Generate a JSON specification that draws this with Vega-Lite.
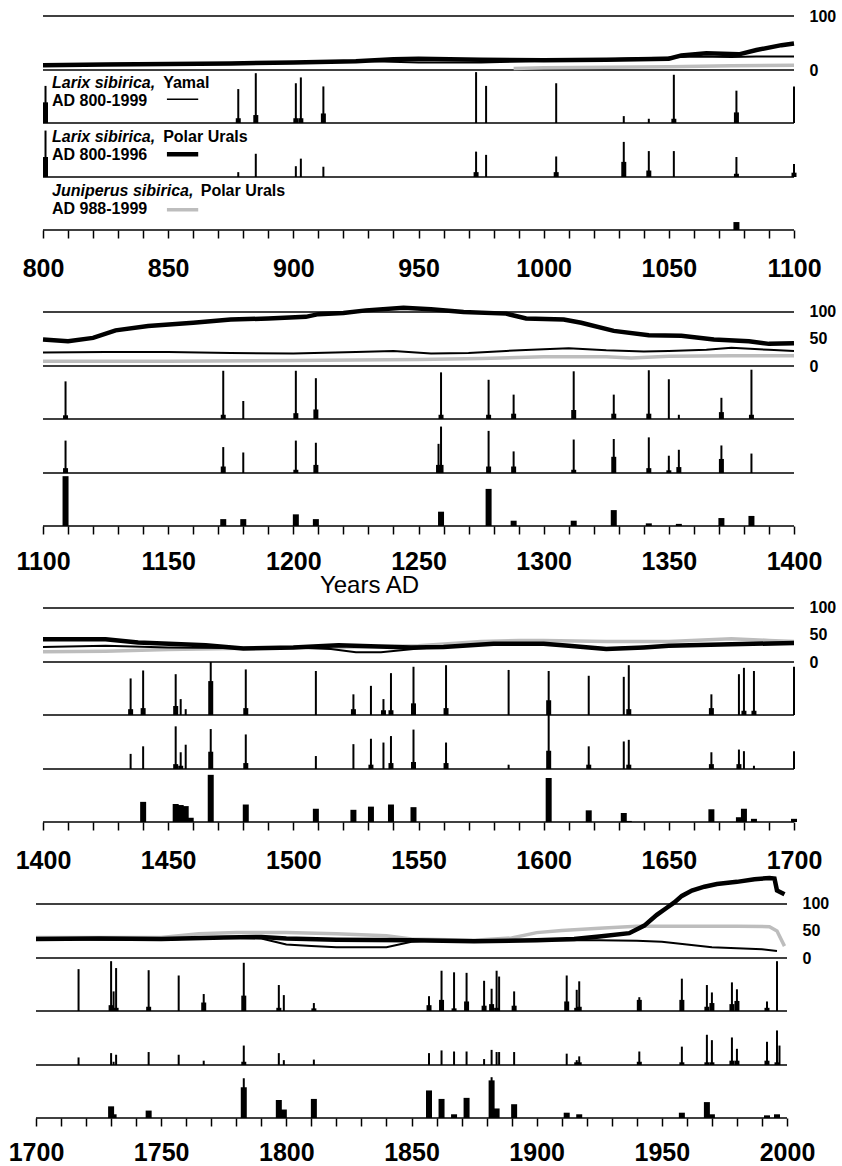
{
"$schema": "https://vega.github.io/schema/vega-lite/v6.json",
"background": "white",
"padding": {"left": 8, "top": 8, "right": 0, "bottom": 0},
"autosize": {"type": "pad"},
"config": {"view": {"stroke": null}, "font": "Liberation Sans", "scale": {"continuousPadding": 0}},
"datasets": {
"series": [
{"s":"thin","year":800,"v":10},{"s":"thin","year":825,"v":11},{"s":"thin","year":850,"v":12},{"s":"thin","year":875,"v":13},{"s":"thin","year":900,"v":14},{"s":"thin","year":925,"v":17},{"s":"thin","year":950,"v":14},{"s":"thin","year":975,"v":14},{"s":"thin","year":1000,"v":17},{"s":"thin","year":1025,"v":20},{"s":"thin","year":1050,"v":23},{"s":"thin","year":1060,"v":25},{"s":"thin","year":1075,"v":24},{"s":"thin","year":1085,"v":25},{"s":"thin","year":1100,"v":25},
{"s":"thin","year":1125,"v":26},{"s":"thin","year":1150,"v":26},{"s":"thin","year":1175,"v":24},{"s":"thin","year":1200,"v":23},{"s":"thin","year":1225,"v":26},{"s":"thin","year":1240,"v":28},{"s":"thin","year":1255,"v":23},{"s":"thin","year":1270,"v":24},{"s":"thin","year":1285,"v":28},{"s":"thin","year":1300,"v":31},{"s":"thin","year":1310,"v":33},{"s":"thin","year":1325,"v":29},{"s":"thin","year":1340,"v":27},{"s":"thin","year":1350,"v":28},{"s":"thin","year":1365,"v":30},{"s":"thin","year":1375,"v":34},{"s":"thin","year":1390,"v":30},{"s":"thin","year":1400,"v":28},
{"s":"thin","year":1425,"v":30},{"s":"thin","year":1450,"v":27},{"s":"thin","year":1475,"v":26},{"s":"thin","year":1500,"v":27},{"s":"thin","year":1515,"v":24},{"s":"thin","year":1525,"v":18},{"s":"thin","year":1535,"v":18},{"s":"thin","year":1550,"v":25},{"s":"thin","year":1575,"v":32},{"s":"thin","year":1600,"v":34},{"s":"thin","year":1625,"v":25},{"s":"thin","year":1650,"v":30},{"s":"thin","year":1675,"v":34},{"s":"thin","year":1700,"v":36},
{"s":"thin","year":1725,"v":34},{"s":"thin","year":1750,"v":34},{"s":"thin","year":1775,"v":38},{"s":"thin","year":1790,"v":36},{"s":"thin","year":1800,"v":25},{"s":"thin","year":1810,"v":22},{"s":"thin","year":1820,"v":20},{"s":"thin","year":1840,"v":20},{"s":"thin","year":1850,"v":30},{"s":"thin","year":1860,"v":33},{"s":"thin","year":1875,"v":32},{"s":"thin","year":1900,"v":33},{"s":"thin","year":1925,"v":33},{"s":"thin","year":1940,"v":32},{"s":"thin","year":1950,"v":30},{"s":"thin","year":1960,"v":25},{"s":"thin","year":1970,"v":20},{"s":"thin","year":1980,"v":18},{"s":"thin","year":1990,"v":16},{"s":"thin","year":1996,"v":13},
{"s":"thick","year":800,"v":9},{"s":"thick","year":825,"v":10},{"s":"thick","year":850,"v":11},{"s":"thick","year":875,"v":12},{"s":"thick","year":900,"v":14},{"s":"thick","year":925,"v":16},{"s":"thick","year":940,"v":20},{"s":"thick","year":950,"v":21},{"s":"thick","year":975,"v":19},{"s":"thick","year":1000,"v":18},{"s":"thick","year":1025,"v":19},{"s":"thick","year":1050,"v":21},{"s":"thick","year":1055,"v":27},{"s":"thick","year":1065,"v":31},{"s":"thick","year":1078,"v":29},{"s":"thick","year":1085,"v":37},{"s":"thick","year":1095,"v":46},{"s":"thick","year":1100,"v":49},
{"s":"thick","year":1110,"v":46},{"s":"thick","year":1120,"v":52},{"s":"thick","year":1129,"v":66},{"s":"thick","year":1142,"v":74},{"s":"thick","year":1160,"v":80},{"s":"thick","year":1175,"v":86},{"s":"thick","year":1190,"v":88},{"s":"thick","year":1205,"v":91},{"s":"thick","year":1210,"v":96},{"s":"thick","year":1220,"v":98},{"s":"thick","year":1229,"v":103},{"s":"thick","year":1244,"v":108},{"s":"thick","year":1255,"v":105},{"s":"thick","year":1268,"v":100},{"s":"thick","year":1285,"v":97},{"s":"thick","year":1293,"v":88},{"s":"thick","year":1308,"v":86},{"s":"thick","year":1315,"v":80},{"s":"thick","year":1328,"v":65},{"s":"thick","year":1342,"v":57},{"s":"thick","year":1355,"v":56},{"s":"thick","year":1368,"v":49},{"s":"thick","year":1382,"v":46},{"s":"thick","year":1390,"v":41},{"s":"thick","year":1400,"v":42},
{"s":"thick","year":1425,"v":42},{"s":"thick","year":1438,"v":36},{"s":"thick","year":1465,"v":31},{"s":"thick","year":1480,"v":25},{"s":"thick","year":1500,"v":27},{"s":"thick","year":1518,"v":31},{"s":"thick","year":1547,"v":27},{"s":"thick","year":1560,"v":28},{"s":"thick","year":1580,"v":34},{"s":"thick","year":1600,"v":34},{"s":"thick","year":1610,"v":30},{"s":"thick","year":1625,"v":24},{"s":"thick","year":1640,"v":27},{"s":"thick","year":1650,"v":30},{"s":"thick","year":1675,"v":33},{"s":"thick","year":1700,"v":35},
{"s":"thick","year":1725,"v":36},{"s":"thick","year":1750,"v":35},{"s":"thick","year":1775,"v":38},{"s":"thick","year":1790,"v":39},{"s":"thick","year":1800,"v":36},{"s":"thick","year":1820,"v":34},{"s":"thick","year":1850,"v":33},{"s":"thick","year":1875,"v":31},{"s":"thick","year":1900,"v":33},{"s":"thick","year":1915,"v":35},{"s":"thick","year":1925,"v":40},{"s":"thick","year":1937,"v":46},{"s":"thick","year":1943,"v":60},{"s":"thick","year":1948,"v":80},{"s":"thick","year":1952,"v":93},{"s":"thick","year":1955,"v":103},{"s":"thick","year":1958,"v":115},{"s":"thick","year":1962,"v":125},{"s":"thick","year":1967,"v":132},{"s":"thick","year":1972,"v":137},{"s":"thick","year":1980,"v":141},{"s":"thick","year":1987,"v":146},{"s":"thick","year":1993,"v":148},{"s":"thick","year":1995,"v":147},{"s":"thick","year":1996,"v":125},{"s":"thick","year":1999,"v":118},
{"s":"grey","year":988,"v":3},{"s":"grey","year":1000,"v":4},{"s":"grey","year":1025,"v":5},{"s":"grey","year":1050,"v":6},{"s":"grey","year":1075,"v":8},{"s":"grey","year":1100,"v":9},{"s":"grey","year":1150,"v":9},{"s":"grey","year":1200,"v":10},{"s":"grey","year":1225,"v":11},{"s":"grey","year":1250,"v":12},{"s":"grey","year":1275,"v":14},{"s":"grey","year":1300,"v":17},{"s":"grey","year":1325,"v":17},{"s":"grey","year":1335,"v":15},{"s":"grey","year":1350,"v":18},{"s":"grey","year":1375,"v":19},{"s":"grey","year":1400,"v":19},{"s":"grey","year":1425,"v":20},{"s":"grey","year":1450,"v":23},{"s":"grey","year":1475,"v":25},{"s":"grey","year":1500,"v":27},{"s":"grey","year":1525,"v":28},{"s":"grey","year":1550,"v":30},{"s":"grey","year":1575,"v":38},{"s":"grey","year":1590,"v":40},{"s":"grey","year":1600,"v":40},{"s":"grey","year":1625,"v":38},{"s":"grey","year":1650,"v":38},{"s":"grey","year":1675,"v":43},{"s":"grey","year":1690,"v":40},{"s":"grey","year":1700,"v":38},{"s":"grey","year":1725,"v":38},{"s":"grey","year":1750,"v":38},{"s":"grey","year":1765,"v":45},{"s":"grey","year":1780,"v":47},{"s":"grey","year":1800,"v":47},{"s":"grey","year":1820,"v":45},{"s":"grey","year":1840,"v":41},{"s":"grey","year":1850,"v":35},{"s":"grey","year":1875,"v":33},{"s":"grey","year":1890,"v":37},{"s":"grey","year":1900,"v":47},{"s":"grey","year":1910,"v":51},{"s":"grey","year":1925,"v":55},{"s":"grey","year":1940,"v":59},{"s":"grey","year":1960,"v":59},{"s":"grey","year":1980,"v":59},{"s":"grey","year":1993,"v":58},{"s":"grey","year":1996,"v":50},{"s":"grey","year":1999,"v":22}
],
"events": [
{"site":"Y","year":801,"line":70,"bar":39},{"site":"Y","year":878,"line":64,"bar":9},{"site":"Y","year":885,"line":94,"bar":15},{"site":"Y","year":901,"line":75,"bar":9},{"site":"Y","year":903,"line":86,"bar":9},{"site":"Y","year":912,"line":69,"bar":18},{"site":"Y","year":973,"line":96},{"site":"Y","year":977,"line":70},{"site":"Y","year":1005,"line":75},{"site":"Y","year":1032,"line":13},{"site":"Y","year":1042,"line":8},{"site":"Y","year":1052,"line":91,"bar":8},{"site":"Y","year":1077,"line":61,"bar":20},{"site":"Y","year":1100,"line":69},
{"site":"L","year":801,"line":86,"bar":37},{"site":"L","year":878,"line":9},{"site":"L","year":885,"line":43},{"site":"L","year":901,"line":20},{"site":"L","year":903,"line":34},{"site":"L","year":912,"line":19},{"site":"L","year":973,"line":47,"bar":9},{"site":"L","year":977,"line":41},{"site":"L","year":1005,"line":38,"bar":9},{"site":"L","year":1032,"line":65,"bar":28},{"site":"L","year":1042,"line":48,"bar":12},{"site":"L","year":1052,"line":48},{"site":"L","year":1077,"line":37,"bar":6},{"site":"L","year":1100,"line":24,"bar":8},
{"site":"J","year":1077,"bar":15},
{"site":"Y","year":1109,"line":71,"bar":7},{"site":"Y","year":1172,"line":91,"bar":8},{"site":"Y","year":1180,"line":34},{"site":"Y","year":1201,"line":91,"bar":11},{"site":"Y","year":1209,"line":77,"bar":18},{"site":"Y","year":1259,"line":88,"bar":8},{"site":"Y","year":1278,"line":74,"bar":8},{"site":"Y","year":1288,"line":46,"bar":10},{"site":"Y","year":1312,"line":90,"bar":17},{"site":"Y","year":1328,"line":46,"bar":10},{"site":"Y","year":1342,"line":92,"bar":10},{"site":"Y","year":1350,"line":75},{"site":"Y","year":1354,"line":8},{"site":"Y","year":1371,"line":40,"bar":13},{"site":"Y","year":1383,"line":93,"bar":8},
{"site":"L","year":1109,"line":60,"bar":9},{"site":"L","year":1172,"line":48,"bar":12},{"site":"L","year":1180,"line":38},{"site":"L","year":1201,"line":60,"bar":6},{"site":"L","year":1209,"line":56,"bar":15},{"site":"L","year":1258,"line":54,"bar":15},{"site":"L","year":1259,"line":86,"bar":15},{"site":"L","year":1278,"line":78,"bar":12},{"site":"L","year":1288,"line":40,"bar":12},{"site":"L","year":1312,"line":62,"bar":6},{"site":"L","year":1328,"line":63,"bar":30},{"site":"L","year":1342,"line":66,"bar":9},{"site":"L","year":1350,"line":32,"bar":5},{"site":"L","year":1354,"line":43,"bar":11},{"site":"L","year":1371,"line":51,"bar":26},{"site":"L","year":1383,"line":36},
{"site":"J","year":1109,"bar":94},{"site":"J","year":1172,"bar":13},{"site":"J","year":1180,"bar":13},{"site":"J","year":1201,"bar":22},{"site":"J","year":1209,"bar":13},{"site":"J","year":1259,"bar":27},{"site":"J","year":1278,"bar":70},{"site":"J","year":1288,"bar":10},{"site":"J","year":1312,"bar":10},{"site":"J","year":1328,"bar":30},{"site":"J","year":1342,"bar":5},{"site":"J","year":1354,"bar":4},{"site":"J","year":1371,"bar":15},{"site":"J","year":1383,"bar":19},
{"site":"Y","year":1435,"line":69,"bar":11},{"site":"Y","year":1440,"line":84,"bar":13},{"site":"Y","year":1453,"line":77,"bar":17},{"site":"Y","year":1455,"line":30},{"site":"Y","year":1457,"line":11},{"site":"Y","year":1467,"line":100,"bar":64},{"site":"Y","year":1481,"line":86,"bar":13},{"site":"Y","year":1509,"line":83},{"site":"Y","year":1524,"line":39,"bar":11},{"site":"Y","year":1531,"line":55},{"site":"Y","year":1536,"line":30,"bar":9},{"site":"Y","year":1539,"line":79,"bar":9},{"site":"Y","year":1548,"line":91,"bar":22},{"site":"Y","year":1561,"line":94,"bar":13},{"site":"Y","year":1586,"line":85},{"site":"Y","year":1602,"line":83,"bar":28},{"site":"Y","year":1618,"line":74},{"site":"Y","year":1632,"line":72},{"site":"Y","year":1634,"line":94,"bar":11},{"site":"Y","year":1667,"line":39,"bar":13},{"site":"Y","year":1678,"line":77},{"site":"Y","year":1680,"line":89,"bar":8},{"site":"Y","year":1684,"line":83,"bar":8},{"site":"Y","year":1700,"line":91},
{"site":"L","year":1435,"line":28},{"site":"L","year":1440,"line":42},{"site":"L","year":1453,"line":79,"bar":9},{"site":"L","year":1455,"line":31,"bar":6},{"site":"L","year":1457,"line":45},{"site":"L","year":1467,"line":74,"bar":32},{"site":"L","year":1481,"line":64,"bar":11},{"site":"L","year":1509,"line":24},{"site":"L","year":1524,"line":46},{"site":"L","year":1531,"line":56,"bar":8},{"site":"L","year":1536,"line":49},{"site":"L","year":1539,"line":61,"bar":11},{"site":"L","year":1548,"line":73,"bar":13},{"site":"L","year":1561,"line":49,"bar":11},{"site":"L","year":1586,"line":8},{"site":"L","year":1602,"line":100,"bar":34},{"site":"L","year":1618,"line":42,"bar":8},{"site":"L","year":1632,"line":51},{"site":"L","year":1634,"line":54,"bar":8},{"site":"L","year":1667,"line":31,"bar":9},{"site":"L","year":1678,"line":36,"bar":9},{"site":"L","year":1680,"line":33},{"site":"L","year":1684,"line":6},{"site":"L","year":1700,"line":33},
{"site":"J","year":1440,"bar":38},{"site":"J","year":1453,"bar":34},{"site":"J","year":1455,"bar":32},{"site":"J","year":1457,"bar":30},{"site":"J","year":1459,"bar":8},{"site":"J","year":1467,"bar":89},{"site":"J","year":1481,"bar":33},{"site":"J","year":1509,"bar":25},{"site":"J","year":1524,"bar":23},{"site":"J","year":1531,"bar":29},{"site":"J","year":1539,"bar":33},{"site":"J","year":1548,"bar":28},{"site":"J","year":1602,"bar":83},{"site":"J","year":1618,"bar":22},{"site":"J","year":1632,"bar":17},{"site":"J","year":1634,"bar":2},{"site":"J","year":1667,"bar":24},{"site":"J","year":1678,"bar":9},{"site":"J","year":1680,"bar":25},{"site":"J","year":1684,"bar":6},{"site":"J","year":1700,"bar":6},
{"site":"Y","year":1717,"line":79},{"site":"Y","year":1730,"line":94,"bar":11},{"site":"Y","year":1731,"line":37},{"site":"Y","year":1732,"line":81,"bar":6},{"site":"Y","year":1745,"line":77,"bar":8},{"site":"Y","year":1757,"line":67},{"site":"Y","year":1767,"line":32,"bar":16},{"site":"Y","year":1783,"line":91,"bar":29},{"site":"Y","year":1797,"line":49,"bar":6},{"site":"Y","year":1799,"line":30},{"site":"Y","year":1811,"line":15,"bar":5},{"site":"Y","year":1857,"line":28,"bar":11},{"site":"Y","year":1862,"line":76,"bar":21},{"site":"Y","year":1867,"line":73,"bar":5},{"site":"Y","year":1872,"line":72,"bar":18},{"site":"Y","year":1879,"line":57,"bar":10},{"site":"Y","year":1882,"line":42,"bar":13},{"site":"Y","year":1884,"line":76,"bar":6},{"site":"Y","year":1885,"line":65},{"site":"Y","year":1891,"line":37,"bar":10},{"site":"Y","year":1912,"line":67,"bar":18},{"site":"Y","year":1916,"line":40,"bar":6},{"site":"Y","year":1917,"line":56,"bar":8},{"site":"Y","year":1941,"line":26,"bar":21},{"site":"Y","year":1958,"line":61,"bar":21},{"site":"Y","year":1968,"line":49,"bar":8},{"site":"Y","year":1970,"line":35,"bar":15},{"site":"Y","year":1978,"line":54,"bar":13},{"site":"Y","year":1980,"line":41,"bar":19},{"site":"Y","year":1992,"line":18,"bar":6},{"site":"Y","year":1996,"line":94},
{"site":"L","year":1717,"line":14},{"site":"L","year":1730,"line":22},{"site":"L","year":1731,"line":6},{"site":"L","year":1732,"line":19},{"site":"L","year":1745,"line":24},{"site":"L","year":1757,"line":19},{"site":"L","year":1767,"line":8},{"site":"L","year":1783,"line":36,"bar":6},{"site":"L","year":1797,"line":22},{"site":"L","year":1799,"line":9},{"site":"L","year":1811,"line":10},{"site":"L","year":1857,"line":22},{"site":"L","year":1862,"line":27},{"site":"L","year":1867,"line":25},{"site":"L","year":1872,"line":25},{"site":"L","year":1879,"line":11},{"site":"L","year":1882,"line":28},{"site":"L","year":1884,"line":24},{"site":"L","year":1885,"line":24},{"site":"L","year":1891,"line":24},{"site":"L","year":1912,"line":21},{"site":"L","year":1916,"line":9,"bar":5},{"site":"L","year":1917,"line":16,"bar":5},{"site":"L","year":1941,"line":25,"bar":6},{"site":"L","year":1958,"line":34,"bar":5},{"site":"L","year":1968,"line":56,"bar":5},{"site":"L","year":1970,"line":46,"bar":5},{"site":"L","year":1978,"line":51,"bar":8},{"site":"L","year":1980,"line":30,"bar":8},{"site":"L","year":1992,"line":43,"bar":8},{"site":"L","year":1996,"line":64,"bar":5},{"site":"L","year":1997,"line":36},
{"site":"J","year":1730,"bar":22},{"site":"J","year":1731,"bar":7},{"site":"J","year":1745,"bar":14},{"site":"J","year":1783,"line":75,"bar":58},{"site":"J","year":1797,"bar":34},{"site":"J","year":1799,"bar":16},{"site":"J","year":1811,"bar":36},{"site":"J","year":1857,"bar":52},{"site":"J","year":1862,"bar":36},{"site":"J","year":1867,"bar":7},{"site":"J","year":1872,"bar":38},{"site":"J","year":1882,"line":77,"bar":71},{"site":"J","year":1884,"bar":18},{"site":"J","year":1891,"bar":26},{"site":"J","year":1912,"bar":10},{"site":"J","year":1917,"bar":7},{"site":"J","year":1958,"bar":10},{"site":"J","year":1968,"bar":30},{"site":"J","year":1970,"bar":7},{"site":"J","year":1992,"bar":5},{"site":"J","year":1996,"bar":7}
]
},
"spacing": 0,
"bounds": "flush",
"vconcat": [
{"width": 758, "height": 54, "layer": [
{"data": {"values": [{}]}, "mark": {"type": "rule", "color": "black", "strokeWidth": 1.5}, "encoding": {"x": {"datum": 800, "type": "quantitative", "scale": {"domain": [797.2, 1100], "nice": false, "zero": false}, "axis": null}, "x2": {"datum": 1100}, "y": {"datum": 100, "type": "quantitative", "scale": {"domain": [0, 100]}, "axis": {"orient": "right", "values": [0, 50, 100], "ticks": false, "domain": false, "grid": false, "title": null, "labelFontSize": 16, "labelFontWeight": "bold", "labelColor": "black", "labelPadding": 15}}}},
{"data": {"values": [{}]}, "mark": {"type": "rule", "color": "black", "strokeWidth": 1.5}, "encoding": {"x": {"datum": 800}, "x2": {"datum": 1100}, "y": {"datum": 0}}},
{"data": {"name": "series"}, "transform": [{"filter": "datum.s === 'grey' && datum.year >= 800 && datum.year <= 1100"}], "mark": {"type": "line", "color": "#bdbdbd", "strokeWidth": 3.5}, "encoding": {"x": {"field": "year", "type": "quantitative"}, "y": {"field": "v", "type": "quantitative"}}},
{"data": {"name": "series"}, "transform": [{"filter": "datum.s === 'thin' && datum.year >= 800 && datum.year <= 1100"}], "mark": {"type": "line", "color": "black", "strokeWidth": 2}, "encoding": {"x": {"field": "year", "type": "quantitative"}, "y": {"field": "v", "type": "quantitative"}}},
{"data": {"name": "series"}, "transform": [{"filter": "datum.s === 'thick' && datum.year >= 800 && datum.year <= 1100"}], "mark": {"type": "line", "color": "black", "strokeWidth": 4.5}, "encoding": {"x": {"field": "year", "type": "quantitative"}, "y": {"field": "v", "type": "quantitative"}}}
]},
{"width": 758, "height": 53, "layer": [
{"data": {"values": [{}]}, "mark": {"type": "rule", "color": "black", "strokeWidth": 1.5}, "encoding": {"x": {"datum": 800, "type": "quantitative", "scale": {"domain": [797.2, 1100], "nice": false, "zero": false}, "axis": null}, "x2": {"datum": 1100}, "y": {"datum": 0, "type": "quantitative", "scale": {"domain": [0, 100]}, "axis": null}}},
{"data": {"name": "events"}, "transform": [{"filter": "datum.site === 'Y' && datum.year >= 800 && datum.year <= 1100 && datum.line > 0"}], "mark": {"type": "bar", "orient": "vertical", "size": 2, "color": "black"}, "encoding": {"x": {"field": "year", "type": "quantitative"}, "y": {"field": "line", "type": "quantitative"}}},
{"data": {"name": "events"}, "transform": [{"filter": "datum.site === 'Y' && datum.year >= 800 && datum.year <= 1100 && datum.bar > 0"}], "mark": {"type": "bar", "orient": "vertical", "size": 5, "color": "black"}, "encoding": {"x": {"field": "year", "type": "quantitative"}, "y": {"field": "bar", "type": "quantitative"}}},
{"data": {"values": [{}]}, "mark": {"type": "text", "align": "left", "baseline": "alphabetic", "fontSize": 16, "fontWeight": "bold", "fontStyle": "italic", "color": "black"}, "encoding": {"x": {"datum": 803.6}, "y": {"datum": 66}, "text": {"value": "Larix sibirica,"}}},
{"data": {"values": [{}]}, "mark": {"type": "text", "align": "left", "baseline": "alphabetic", "fontSize": 16, "fontWeight": "bold", "color": "black"}, "encoding": {"x": {"datum": 848}, "y": {"datum": 66}, "text": {"value": "Yamal"}}},
{"data": {"values": [{}]}, "mark": {"type": "text", "align": "left", "baseline": "alphabetic", "fontSize": 16, "fontWeight": "bold", "color": "black"}, "encoding": {"x": {"datum": 803.6}, "y": {"datum": 33}, "text": {"value": "AD 800-1999"}}},
{"data": {"values": [{}]}, "mark": {"type": "rule", "color": "black", "strokeWidth": 1.5}, "encoding": {"x": {"datum": 849.5}, "x2": {"datum": 862}, "y": {"datum": 45}}}
]},
{"width": 758, "height": 54, "layer": [
{"data": {"values": [{}]}, "mark": {"type": "rule", "color": "black", "strokeWidth": 1.5}, "encoding": {"x": {"datum": 800, "type": "quantitative", "scale": {"domain": [797.2, 1100], "nice": false, "zero": false}, "axis": null}, "x2": {"datum": 1100}, "y": {"datum": 0, "type": "quantitative", "scale": {"domain": [0, 100]}, "axis": null}}},
{"data": {"name": "events"}, "transform": [{"filter": "datum.site === 'L' && datum.year >= 800 && datum.year <= 1100 && datum.line > 0"}], "mark": {"type": "bar", "orient": "vertical", "size": 2, "color": "black"}, "encoding": {"x": {"field": "year", "type": "quantitative"}, "y": {"field": "line", "type": "quantitative"}}},
{"data": {"name": "events"}, "transform": [{"filter": "datum.site === 'L' && datum.year >= 800 && datum.year <= 1100 && datum.bar > 0"}], "mark": {"type": "bar", "orient": "vertical", "size": 5, "color": "black"}, "encoding": {"x": {"field": "year", "type": "quantitative"}, "y": {"field": "bar", "type": "quantitative"}}},
{"data": {"values": [{}]}, "mark": {"type": "text", "align": "left", "baseline": "alphabetic", "fontSize": 16, "fontWeight": "bold", "fontStyle": "italic", "color": "black"}, "encoding": {"x": {"datum": 803.6}, "y": {"datum": 65}, "text": {"value": "Larix sibirica,"}}},
{"data": {"values": [{}]}, "mark": {"type": "text", "align": "left", "baseline": "alphabetic", "fontSize": 16, "fontWeight": "bold", "color": "black"}, "encoding": {"x": {"datum": 848}, "y": {"datum": 65}, "text": {"value": "Polar Urals"}}},
{"data": {"values": [{}]}, "mark": {"type": "text", "align": "left", "baseline": "alphabetic", "fontSize": 16, "fontWeight": "bold", "color": "black"}, "encoding": {"x": {"datum": 803.6}, "y": {"datum": 31}, "text": {"value": "AD 800-1996"}}},
{"data": {"values": [{}]}, "mark": {"type": "rule", "color": "black", "strokeWidth": 4.5}, "encoding": {"x": {"datum": 849.5}, "x2": {"datum": 862}, "y": {"datum": 42}}}
]},
{"width": 758, "height": 53, "layer": [
{"data": {"values": [{}]}, "mark": {"type": "rule", "color": "black", "strokeWidth": 1.5}, "encoding": {"x": {"datum": 800, "type": "quantitative", "scale": {"domain": [797.2, 1100], "nice": false, "zero": false}, "axis": {"values": [800,810,820,830,840,850,860,870,880,890,900,910,920,930,940,950,960,970,980,990,1000,1010,1020,1030,1040,1050,1060,1070,1080,1090,1100], "tickCount": 60, "labelExpr": "datum.value % 50 === 0 ? datum.label : ''", "format": "d", "domain": false, "tickSize": 8, "tickWidth": 1.5, "tickColor": "black", "grid": false, "title": null, "labelFontSize": 25, "labelFontWeight": "bold", "labelColor": "black", "labelPadding": 18, "labelFlush": false, "labelOverlap": false}}, "x2": {"datum": 1100}, "y": {"datum": 0, "type": "quantitative", "scale": {"domain": [0, 100]}, "axis": null}}},
{"data": {"name": "events"}, "transform": [{"filter": "datum.site === 'J' && datum.year >= 800 && datum.year <= 1100 && datum.bar > 0"}], "mark": {"type": "bar", "orient": "vertical", "size": 6, "color": "black"}, "encoding": {"x": {"field": "year", "type": "quantitative"}, "y": {"field": "bar", "type": "quantitative"}}},
{"data": {"values": [{}]}, "mark": {"type": "text", "align": "left", "baseline": "alphabetic", "fontSize": 16, "fontWeight": "bold", "fontStyle": "italic", "color": "black"}, "encoding": {"x": {"datum": 803.6}, "y": {"datum": 65}, "text": {"value": "Juniperus sibirica,"}}},
{"data": {"values": [{}]}, "mark": {"type": "text", "align": "left", "baseline": "alphabetic", "fontSize": 16, "fontWeight": "bold", "color": "black"}, "encoding": {"x": {"datum": 863}, "y": {"datum": 65}, "text": {"value": "Polar Urals"}}},
{"data": {"values": [{}]}, "mark": {"type": "text", "align": "left", "baseline": "alphabetic", "fontSize": 16, "fontWeight": "bold", "color": "black"}, "encoding": {"x": {"datum": 803.6}, "y": {"datum": 31}, "text": {"value": "AD 988-1999"}}},
{"data": {"values": [{}]}, "mark": {"type": "rule", "color": "#bdbdbd", "strokeWidth": 3.5}, "encoding": {"x": {"datum": 849.5}, "x2": {"datum": 862}, "y": {"datum": 38}}}
]},
{"width": 758, "height": 136, "layer": [
{"data": {"values": [{}]}, "mark": {"type": "rule", "color": "black", "strokeWidth": 1.5}, "encoding": {"x": {"datum": 1100, "type": "quantitative", "scale": {"domain": [1097.2, 1400], "nice": false, "zero": false}, "axis": null}, "x2": {"datum": 1400}, "y": {"datum": 100, "type": "quantitative", "scale": {"domain": [0, 251.85], "nice": false}, "axis": {"orient": "right", "values": [0, 50, 100], "ticks": false, "domain": false, "grid": false, "title": null, "labelFontSize": 16, "labelFontWeight": "bold", "labelColor": "black", "labelPadding": 15}}}},
{"data": {"values": [{}]}, "mark": {"type": "rule", "color": "black", "strokeWidth": 1.5}, "encoding": {"x": {"datum": 1100}, "x2": {"datum": 1400}, "y": {"datum": 0}}},
{"data": {"name": "series"}, "transform": [{"filter": "datum.s === 'grey' && datum.year >= 1100 && datum.year <= 1400"}], "mark": {"type": "line", "color": "#bdbdbd", "strokeWidth": 3.5}, "encoding": {"x": {"field": "year", "type": "quantitative"}, "y": {"field": "v", "type": "quantitative"}}},
{"data": {"name": "series"}, "transform": [{"filter": "datum.s === 'thin' && datum.year >= 1100 && datum.year <= 1400"}], "mark": {"type": "line", "color": "black", "strokeWidth": 2}, "encoding": {"x": {"field": "year", "type": "quantitative"}, "y": {"field": "v", "type": "quantitative"}}},
{"data": {"name": "series"}, "transform": [{"filter": "datum.s === 'thick' && datum.year >= 1100 && datum.year <= 1400"}], "mark": {"type": "line", "color": "black", "strokeWidth": 4.5}, "encoding": {"x": {"field": "year", "type": "quantitative"}, "y": {"field": "v", "type": "quantitative"}}}
]},
{"width": 758, "height": 53, "layer": [
{"data": {"values": [{}]}, "mark": {"type": "rule", "color": "black", "strokeWidth": 1.5}, "encoding": {"x": {"datum": 1100, "type": "quantitative", "scale": {"domain": [1097.2, 1400], "nice": false, "zero": false}, "axis": null}, "x2": {"datum": 1400}, "y": {"datum": 0, "type": "quantitative", "scale": {"domain": [0, 100]}, "axis": null}}},
{"data": {"name": "events"}, "transform": [{"filter": "datum.site === 'Y' && datum.year > 1100 && datum.year <= 1400 && datum.line > 0"}], "mark": {"type": "bar", "orient": "vertical", "size": 2, "color": "black"}, "encoding": {"x": {"field": "year", "type": "quantitative"}, "y": {"field": "line", "type": "quantitative"}}},
{"data": {"name": "events"}, "transform": [{"filter": "datum.site === 'Y' && datum.year > 1100 && datum.year <= 1400 && datum.bar > 0"}], "mark": {"type": "bar", "orient": "vertical", "size": 5, "color": "black"}, "encoding": {"x": {"field": "year", "type": "quantitative"}, "y": {"field": "bar", "type": "quantitative"}}}
]},
{"width": 758, "height": 54, "layer": [
{"data": {"values": [{}]}, "mark": {"type": "rule", "color": "black", "strokeWidth": 1.5}, "encoding": {"x": {"datum": 1100, "type": "quantitative", "scale": {"domain": [1097.2, 1400], "nice": false, "zero": false}, "axis": null}, "x2": {"datum": 1400}, "y": {"datum": 0, "type": "quantitative", "scale": {"domain": [0, 100]}, "axis": null}}},
{"data": {"name": "events"}, "transform": [{"filter": "datum.site === 'L' && datum.year > 1100 && datum.year <= 1400 && datum.line > 0"}], "mark": {"type": "bar", "orient": "vertical", "size": 2, "color": "black"}, "encoding": {"x": {"field": "year", "type": "quantitative"}, "y": {"field": "line", "type": "quantitative"}}},
{"data": {"name": "events"}, "transform": [{"filter": "datum.site === 'L' && datum.year > 1100 && datum.year <= 1400 && datum.bar > 0"}], "mark": {"type": "bar", "orient": "vertical", "size": 5, "color": "black"}, "encoding": {"x": {"field": "year", "type": "quantitative"}, "y": {"field": "bar", "type": "quantitative"}}}
]},
{"width": 758, "height": 53, "layer": [
{"data": {"values": [{}]}, "mark": {"type": "rule", "color": "black", "strokeWidth": 1.5}, "encoding": {"x": {"datum": 1100, "type": "quantitative", "scale": {"domain": [1097.2, 1400], "nice": false, "zero": false}, "axis": {"values": [1100,1110,1120,1130,1140,1150,1160,1170,1180,1190,1200,1210,1220,1230,1240,1250,1260,1270,1280,1290,1300,1310,1320,1330,1340,1350,1360,1370,1380,1390,1400], "tickCount": 60, "labelExpr": "datum.value % 50 === 0 ? datum.label : ''", "format": "d", "domain": false, "tickSize": 8, "tickWidth": 1.5, "tickColor": "black", "grid": false, "title": "Years AD", "titleFontSize": 24, "titleFontWeight": "normal", "titleColor": "black", "titlePadding": -1, "titleX": 333, "labelFontSize": 25, "labelFontWeight": "bold", "labelColor": "black", "labelPadding": 15, "labelFlush": false, "labelOverlap": false}}, "x2": {"datum": 1400}, "y": {"datum": 0, "type": "quantitative", "scale": {"domain": [0, 100]}, "axis": null}}},
{"data": {"name": "events"}, "transform": [{"filter": "datum.site === 'J' && datum.year > 1100 && datum.year <= 1400 && datum.bar > 0"}], "mark": {"type": "bar", "orient": "vertical", "size": 6, "color": "black"}, "encoding": {"x": {"field": "year", "type": "quantitative"}, "y": {"field": "bar", "type": "quantitative"}}}
]},
{"width": 758, "height": 136, "layer": [
{"data": {"values": [{}]}, "mark": {"type": "rule", "color": "black", "strokeWidth": 1.5}, "encoding": {"x": {"datum": 1400, "type": "quantitative", "scale": {"domain": [1397.2, 1700], "nice": false, "zero": false}, "axis": null}, "x2": {"datum": 1700}, "y": {"datum": 100, "type": "quantitative", "scale": {"domain": [0, 251.85], "nice": false}, "axis": {"orient": "right", "values": [0, 50, 100], "ticks": false, "domain": false, "grid": false, "title": null, "labelFontSize": 16, "labelFontWeight": "bold", "labelColor": "black", "labelPadding": 15}}}},
{"data": {"values": [{}]}, "mark": {"type": "rule", "color": "black", "strokeWidth": 1.5}, "encoding": {"x": {"datum": 1400}, "x2": {"datum": 1700}, "y": {"datum": 0}}},
{"data": {"name": "series"}, "transform": [{"filter": "datum.s === 'grey' && datum.year >= 1400 && datum.year <= 1700"}], "mark": {"type": "line", "color": "#bdbdbd", "strokeWidth": 3.5}, "encoding": {"x": {"field": "year", "type": "quantitative"}, "y": {"field": "v", "type": "quantitative"}}},
{"data": {"name": "series"}, "transform": [{"filter": "datum.s === 'thin' && datum.year >= 1400 && datum.year <= 1700"}], "mark": {"type": "line", "color": "black", "strokeWidth": 2}, "encoding": {"x": {"field": "year", "type": "quantitative"}, "y": {"field": "v", "type": "quantitative"}}},
{"data": {"name": "series"}, "transform": [{"filter": "datum.s === 'thick' && datum.year >= 1400 && datum.year <= 1700"}], "mark": {"type": "line", "color": "black", "strokeWidth": 4.5}, "encoding": {"x": {"field": "year", "type": "quantitative"}, "y": {"field": "v", "type": "quantitative"}}}
]},
{"width": 758, "height": 53, "layer": [
{"data": {"values": [{}]}, "mark": {"type": "rule", "color": "black", "strokeWidth": 1.5}, "encoding": {"x": {"datum": 1400, "type": "quantitative", "scale": {"domain": [1397.2, 1700], "nice": false, "zero": false}, "axis": null}, "x2": {"datum": 1700}, "y": {"datum": 0, "type": "quantitative", "scale": {"domain": [0, 100]}, "axis": null}}},
{"data": {"name": "events"}, "transform": [{"filter": "datum.site === 'Y' && datum.year > 1400 && datum.year <= 1700 && datum.line > 0"}], "mark": {"type": "bar", "orient": "vertical", "size": 2, "color": "black"}, "encoding": {"x": {"field": "year", "type": "quantitative"}, "y": {"field": "line", "type": "quantitative"}}},
{"data": {"name": "events"}, "transform": [{"filter": "datum.site === 'Y' && datum.year > 1400 && datum.year <= 1700 && datum.bar > 0"}], "mark": {"type": "bar", "orient": "vertical", "size": 5, "color": "black"}, "encoding": {"x": {"field": "year", "type": "quantitative"}, "y": {"field": "bar", "type": "quantitative"}}}
]},
{"width": 758, "height": 54, "layer": [
{"data": {"values": [{}]}, "mark": {"type": "rule", "color": "black", "strokeWidth": 1.5}, "encoding": {"x": {"datum": 1400, "type": "quantitative", "scale": {"domain": [1397.2, 1700], "nice": false, "zero": false}, "axis": null}, "x2": {"datum": 1700}, "y": {"datum": 0, "type": "quantitative", "scale": {"domain": [0, 100]}, "axis": null}}},
{"data": {"name": "events"}, "transform": [{"filter": "datum.site === 'L' && datum.year > 1400 && datum.year <= 1700 && datum.line > 0"}], "mark": {"type": "bar", "orient": "vertical", "size": 2, "color": "black"}, "encoding": {"x": {"field": "year", "type": "quantitative"}, "y": {"field": "line", "type": "quantitative"}}},
{"data": {"name": "events"}, "transform": [{"filter": "datum.site === 'L' && datum.year > 1400 && datum.year <= 1700 && datum.bar > 0"}], "mark": {"type": "bar", "orient": "vertical", "size": 5, "color": "black"}, "encoding": {"x": {"field": "year", "type": "quantitative"}, "y": {"field": "bar", "type": "quantitative"}}}
]},
{"width": 758, "height": 53, "layer": [
{"data": {"values": [{}]}, "mark": {"type": "rule", "color": "black", "strokeWidth": 1.5}, "encoding": {"x": {"datum": 1400, "type": "quantitative", "scale": {"domain": [1397.2, 1700], "nice": false, "zero": false}, "axis": {"values": [1400,1410,1420,1430,1440,1450,1460,1470,1480,1490,1500,1510,1520,1530,1540,1550,1560,1570,1580,1590,1600,1610,1620,1630,1640,1650,1660,1670,1680,1690,1700], "tickCount": 60, "labelExpr": "datum.value % 50 === 0 ? datum.label : ''", "format": "d", "domain": false, "tickSize": 8, "tickWidth": 1.5, "tickColor": "black", "grid": false, "title": null, "labelFontSize": 25, "labelFontWeight": "bold", "labelColor": "black", "labelPadding": 18, "labelFlush": false, "labelOverlap": false}}, "x2": {"datum": 1700}, "y": {"datum": 0, "type": "quantitative", "scale": {"domain": [0, 100]}, "axis": null}}},
{"data": {"name": "events"}, "transform": [{"filter": "datum.site === 'J' && datum.year > 1400 && datum.year <= 1700 && datum.bar > 0"}], "mark": {"type": "bar", "orient": "vertical", "size": 6, "color": "black"}, "encoding": {"x": {"field": "year", "type": "quantitative"}, "y": {"field": "bar", "type": "quantitative"}}}
]},
{"width": 751, "height": 136, "layer": [
{"data": {"values": [{}]}, "mark": {"type": "rule", "color": "black", "strokeWidth": 1.5}, "encoding": {"x": {"datum": 1700, "type": "quantitative", "scale": {"domain": [1700, 2000], "nice": false, "zero": false}, "axis": null}, "x2": {"datum": 2000}, "y": {"datum": 100, "type": "quantitative", "scale": {"domain": [0, 251.85], "nice": false}, "axis": {"orient": "right", "values": [0, 50, 100], "ticks": false, "domain": false, "grid": false, "title": null, "labelFontSize": 16, "labelFontWeight": "bold", "labelColor": "black", "labelPadding": 15}}}},
{"data": {"values": [{}]}, "mark": {"type": "rule", "color": "black", "strokeWidth": 1.5}, "encoding": {"x": {"datum": 1700}, "x2": {"datum": 2000}, "y": {"datum": 0}}},
{"data": {"name": "series"}, "transform": [{"filter": "datum.s === 'grey' && datum.year >= 1700 && datum.year <= 2000"}], "mark": {"type": "line", "color": "#bdbdbd", "strokeWidth": 3.5}, "encoding": {"x": {"field": "year", "type": "quantitative"}, "y": {"field": "v", "type": "quantitative"}}},
{"data": {"name": "series"}, "transform": [{"filter": "datum.s === 'thin' && datum.year >= 1700 && datum.year <= 2000"}], "mark": {"type": "line", "color": "black", "strokeWidth": 2}, "encoding": {"x": {"field": "year", "type": "quantitative"}, "y": {"field": "v", "type": "quantitative"}}},
{"data": {"name": "series"}, "transform": [{"filter": "datum.s === 'thick' && datum.year >= 1700 && datum.year <= 2000"}], "mark": {"type": "line", "color": "black", "strokeWidth": 4.5}, "encoding": {"x": {"field": "year", "type": "quantitative"}, "y": {"field": "v", "type": "quantitative"}}}
]},
{"width": 751, "height": 53, "layer": [
{"data": {"values": [{}]}, "mark": {"type": "rule", "color": "black", "strokeWidth": 1.5}, "encoding": {"x": {"datum": 1700, "type": "quantitative", "scale": {"domain": [1700, 2000], "nice": false, "zero": false}, "axis": null}, "x2": {"datum": 2000}, "y": {"datum": 0, "type": "quantitative", "scale": {"domain": [0, 100]}, "axis": null}}},
{"data": {"name": "events"}, "transform": [{"filter": "datum.site === 'Y' && datum.year > 1700 && datum.year <= 2000 && datum.line > 0"}], "mark": {"type": "bar", "orient": "vertical", "size": 2, "color": "black"}, "encoding": {"x": {"field": "year", "type": "quantitative"}, "y": {"field": "line", "type": "quantitative"}}},
{"data": {"name": "events"}, "transform": [{"filter": "datum.site === 'Y' && datum.year > 1700 && datum.year <= 2000 && datum.bar > 0"}], "mark": {"type": "bar", "orient": "vertical", "size": 5, "color": "black"}, "encoding": {"x": {"field": "year", "type": "quantitative"}, "y": {"field": "bar", "type": "quantitative"}}}
]},
{"width": 751, "height": 54, "layer": [
{"data": {"values": [{}]}, "mark": {"type": "rule", "color": "black", "strokeWidth": 1.5}, "encoding": {"x": {"datum": 1700, "type": "quantitative", "scale": {"domain": [1700, 2000], "nice": false, "zero": false}, "axis": null}, "x2": {"datum": 2000}, "y": {"datum": 0, "type": "quantitative", "scale": {"domain": [0, 100]}, "axis": null}}},
{"data": {"name": "events"}, "transform": [{"filter": "datum.site === 'L' && datum.year > 1700 && datum.year <= 2000 && datum.line > 0"}], "mark": {"type": "bar", "orient": "vertical", "size": 2, "color": "black"}, "encoding": {"x": {"field": "year", "type": "quantitative"}, "y": {"field": "line", "type": "quantitative"}}},
{"data": {"name": "events"}, "transform": [{"filter": "datum.site === 'L' && datum.year > 1700 && datum.year <= 2000 && datum.bar > 0"}], "mark": {"type": "bar", "orient": "vertical", "size": 5, "color": "black"}, "encoding": {"x": {"field": "year", "type": "quantitative"}, "y": {"field": "bar", "type": "quantitative"}}}
]},
{"width": 751, "height": 53, "layer": [
{"data": {"values": [{}]}, "mark": {"type": "rule", "color": "black", "strokeWidth": 1.5}, "encoding": {"x": {"datum": 1700, "type": "quantitative", "scale": {"domain": [1700, 2000], "nice": false, "zero": false}, "axis": {"values": [1700,1710,1720,1730,1740,1750,1760,1770,1780,1790,1800,1810,1820,1830,1840,1850,1860,1870,1880,1890,1900,1910,1920,1930,1940,1950,1960,1970,1980,1990,2000], "tickCount": 60, "labelExpr": "datum.value % 50 === 0 ? datum.label : ''", "format": "d", "domain": false, "tickSize": 8, "tickWidth": 1.5, "tickColor": "black", "grid": false, "title": null, "labelFontSize": 25, "labelFontWeight": "bold", "labelColor": "black", "labelPadding": 14, "labelFlush": false, "labelOverlap": false}}, "x2": {"datum": 2000}, "y": {"datum": 0, "type": "quantitative", "scale": {"domain": [0, 100]}, "axis": null}}},
{"data": {"name": "events"}, "transform": [{"filter": "datum.site === 'J' && datum.year > 1700 && datum.year <= 2000 && datum.line > 0"}], "mark": {"type": "bar", "orient": "vertical", "size": 2, "color": "black"}, "encoding": {"x": {"field": "year", "type": "quantitative"}, "y": {"field": "line", "type": "quantitative"}}},
{"data": {"name": "events"}, "transform": [{"filter": "datum.site === 'J' && datum.year > 1700 && datum.year <= 2000 && datum.bar > 0"}], "mark": {"type": "bar", "orient": "vertical", "size": 6, "color": "black"}, "encoding": {"x": {"field": "year", "type": "quantitative"}, "y": {"field": "bar", "type": "quantitative"}}}
]}
]
}
